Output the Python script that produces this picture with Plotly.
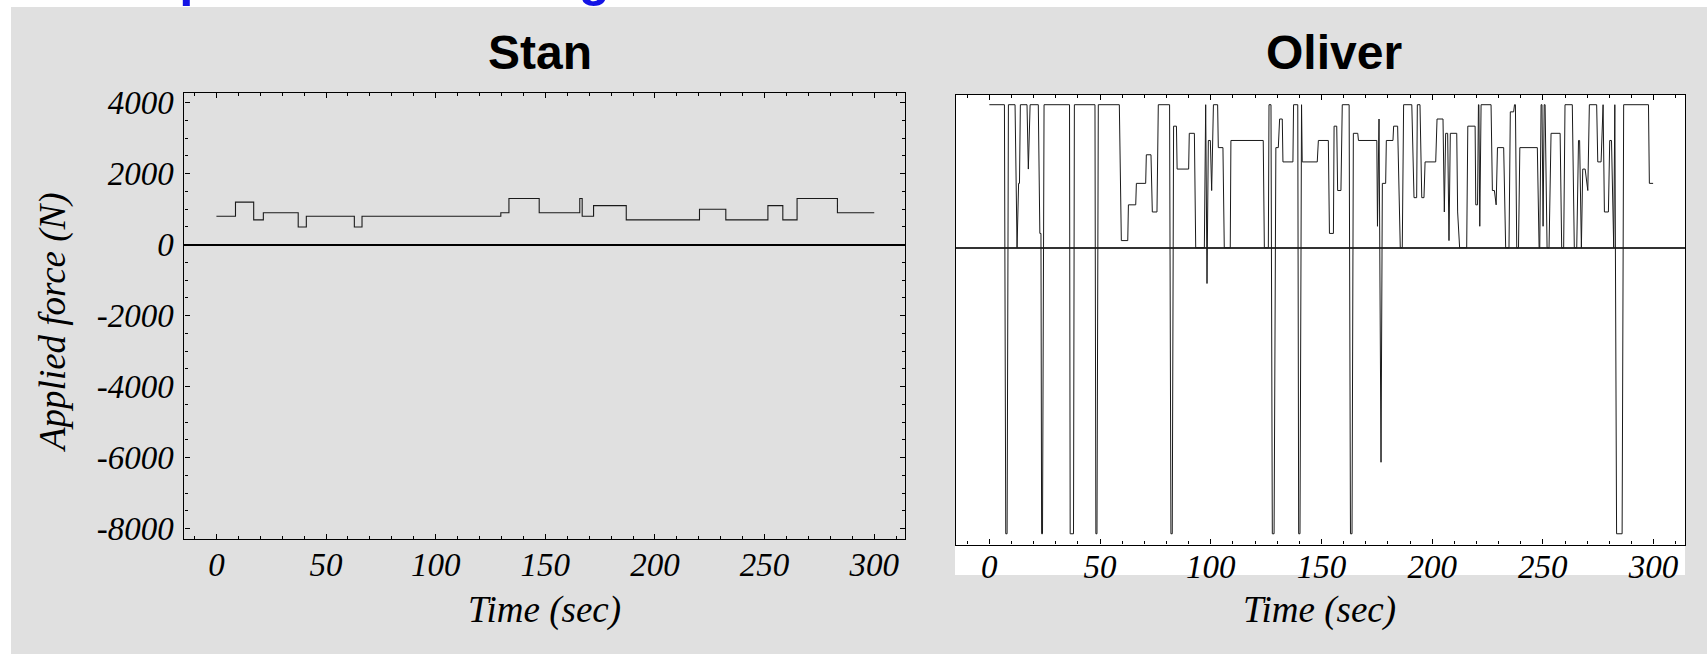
import plotly.graph_objects as go

W, H = 1707, 654

# ---------------- data ----------------
stan_t = [0, 8.7, 17, 21.4, 37.3, 41, 62.9, 66.4, 129.7, 133.4, 147.2, 165.7, 166.8,
          172, 186.9, 220.3, 232.3, 251.5, 258.3, 264.8, 283.2, 300]
stan_v = [800, 1200, 700, 900, 500, 800, 500, 800, 900, 1300, 900, 1300, 800,
          1100, 700, 1000, 700, 1100, 700, 1300, 900, 900]

oliver_t = [0, 6.8, 7.4, 8.0, 8.6, 11.6, 12.5, 13.2, 13.6, 14.0, 17.0, 17.6, 18.4, 22.1,
            22.8, 23.3, 23.6, 24.0, 24.7, 36.2, 36.5, 38.0, 38.4, 47.7, 48.1, 48.6, 49.2,
            58.7, 59.6, 62.5, 62.8, 66.1, 66.4, 70.6, 70.9, 73.0, 73.6, 75.7, 76.3, 81.4,
            82.0, 82.6, 83.2, 84.5, 84.8, 90.0, 90.3, 92.6, 93.2, 97.1, 97.7, 98.3, 98.9,
            99.8, 100.4, 101.2, 103.1, 103.4, 105.5, 106.1, 108.8, 109.1, 123.7, 124.2,
            126.0, 126.3, 127.2, 127.8, 128.6, 129.4, 130.5, 131.1, 132.3, 132.6, 137.1,
            137.4, 139.3, 139.7, 140.3, 140.7, 141.0, 141.3, 148.1, 148.6, 153.1, 153.6,
            155.4, 155.7, 156.9, 157.3, 158.8, 159.4, 162.5, 163.1, 163.8, 164.4, 166.4,
            166.7, 175.0, 175.3, 176.0, 176.9, 177.5, 179.0, 179.3, 182.3, 182.6, 184.4,
            185.6, 186.5, 187.1, 190.8, 191.8, 193.0, 193.3, 194.5, 195.3, 196.3, 196.8,
            201.6, 202.2, 204.9, 205.5, 206.1, 207.0, 207.6, 208.2, 211.1, 211.5, 212.4,
            215.6, 216.1, 219.4, 219.7, 220.5, 220.9, 221.1, 221.5, 222.1, 226.6, 227.2,
            228.1, 228.9, 229.5, 232.3, 233.2, 234.7, 235.3, 236.8, 237.2, 237.6, 238.2,
            239.0, 239.6, 247.5, 248.3, 248.6, 249.2, 249.6, 250.1, 250.6, 251.0, 251.9,
            252.8, 253.7, 257.8, 258.5, 259.4, 260.0, 263.3, 264.2, 265.3, 266.1, 266.6,
            267.4, 268.0, 269.1, 270.3, 271.0, 274.3, 274.8, 276.3, 276.9, 277.2, 277.8,
            279.6, 280.2, 281.0, 282.0, 282.5, 283.3, 285.8, 286.5, 297.7, 298.1, 299.8]
oliver_v = [4000, 4000, -8000, -8000, 4000, 4000, 0, 1800, 1800, 4000, 4000, 2200, 4000, 4000,
            400, 400, -8000, -8000, 4000, 4000, -8000, -8000, 4000, 4000, -8000, -8000, 4000,
            4000, 200, 200, 1200, 1200, 1800, 1800, 2600, 2600, 1000, 1000, 4000, 4000,
            -8000, -8000, 3400, 3400, 2200, 2200, 3200, 3200, 0, 0, 4000, -1000, 3000,
            3000, 1600, 4000, 4000, 2800, 2800, 0, 0, 3000, 3000, 0,
            0, 4000, 4000, -8000, -8000, 2800, 2800, 3600, 3600, 2400, 2400,
            4000, 4000, -8000, -8000, 4000, 4000, 2400, 2400, 3000, 3000, 400,
            400, 3400, 3400, 1600, 1600, 4000, 4000, -8000, -8000, 3200, 3200,
            3000, 3000, 600, 3600, -6000, 1800, 1800, 3000, 3000, 3400, 3400,
            0, 0, 4000, 4000, 1400, 1400, 4000, 4000, 1400, 1400, 2400,
            2400, 3600, 3600, 1000, 3200, 3200, 200, 3200, 3200, 1000, 0,
            0, 3400, 3400, 1200, 1200, 4000, 4000, 600, 4000, 4000, 1600,
            1600, 1200, 2800, 2800, 0, 0, 3800, 3800, 4000, 4000, 0,
            0, 2800, 2800, 0, 0, 4000, 4000, 600, 4000, 4000, 0,
            0, 3200, 3200, 0, 0, 4000, 4000, 0, 0, 3000, 3000,
            0, 2200, 2200, 1600, 4000, 4000, 2400, 2400, 4000, 4000, 1000,
            1000, 3000, 3000, 0, 4000, -8000, -8000, 4000, 4000, 1800, 1800]

x_ticks = [0, 50, 100, 150, 200, 250, 300]
y_ticks = [-8000, -6000, -4000, -2000, 0, 2000, 4000]
y_ticktext = ["-8000", "-6000", "-4000", "-2000", "0", "2000", "4000"]

# ---------------- layout helpers (pixel -> paper) ----------------
def px(x):
    return x / W

def py(y):
    return 1 - y / H

BG = "#e0e0e0"
SERIF = "Liberation Serif"
tickfont = dict(family=SERIF, size=33, color="black", style="italic")

fig = go.Figure()
fig.add_trace(go.Scatter(x=stan_t, y=stan_v, mode="lines", line_shape="hv",
                         line=dict(color="#1a1a1a", width=1.1),
                         xaxis="x", yaxis="y", showlegend=False, hoverinfo="skip"))
fig.add_trace(go.Scatter(x=oliver_t, y=oliver_v, mode="lines",
                         line=dict(color="#1a1a1a", width=1.0),
                         xaxis="x2", yaxis="y2", showlegend=False, hoverinfo="skip"))

common_x = dict(tickvals=x_ticks, ticks="inside", ticklen=5, tickwidth=1, tickcolor="black",
                showline=True, linecolor="black", linewidth=1.2, mirror="allticks",
                showgrid=False, zeroline=False, tickfont=tickfont, automargin=False,
                minor=dict(dtick=10, tick0=0, ticks="inside", ticklen=3, tickcolor="black",
                           showgrid=False))

fig.update_layout(
    width=W, height=H,
    margin=dict(l=0, r=0, t=0, b=0, pad=0, autoexpand=False),
    paper_bgcolor="white", plot_bgcolor="rgba(0,0,0,0)",
    xaxis=dict(domain=[px(184.4), px(905.4)], range=[-14.6, 314.2], anchor="y",
               ticklabelstandoff=-4, **common_x),
    yaxis=dict(domain=[py(539), py(93.3)], range=[-8290, 4265], anchor="x",
               tickvals=y_ticks, ticktext=y_ticktext, ticks="inside", ticklen=5, tickwidth=1,
               tickcolor="black", showline=True, linecolor="black", linewidth=1.2,
               mirror="allticks", showgrid=False, zeroline=True, zerolinecolor="black",
               zerolinewidth=1.5, tickfont=tickfont, ticklabelstandoff=3, automargin=False,
               minor=dict(dtick=500, tick0=0, ticks="inside", ticklen=3, tickcolor="black",
                          showgrid=False)),
    xaxis2=dict(domain=[px(955.5), px(1685)], range=[-15.3, 314.2], anchor="y2",
                ticklabelstandoff=-7, **common_x),
    yaxis2=dict(domain=[py(544.5), py(94.7)], range=[-8300, 4280], anchor="x2",
                showticklabels=False, ticks="", showline=True, linecolor="black",
                linewidth=1.2, mirror=True, showgrid=False, zeroline=True, automargin=False,
                zerolinecolor="#333333", zerolinewidth=2.2),
)

shapes = [
    dict(type="rect", xref="paper", yref="paper", x0=px(11), x1=px(W + 5), y0=py(H + 5), y1=py(7),
         fillcolor=BG, line=dict(width=0), layer="below"),
    dict(type="rect", xref="paper", yref="paper", x0=px(955), x1=px(1685), y0=py(575), y1=py(94),
         fillcolor="white", line=dict(width=0), layer="below"),
]
fig.update_layout(shapes=shapes)

ann = []
ann.append(dict(text="<b>Stan</b>", x=px(540), y=py(52), xref="paper", yref="paper",
                showarrow=False, xanchor="center", yanchor="middle",
                font=dict(family="Liberation Sans", size=48, color="black")))
ann.append(dict(text="<b>Oliver</b>", x=px(1334), y=py(52), xref="paper", yref="paper",
                showarrow=False, xanchor="center", yanchor="middle",
                font=dict(family="Liberation Sans", size=48, color="black")))
ann.append(dict(text="Time (sec)", x=px(544), y=py(610), xref="paper", yref="paper",
                showarrow=False, xanchor="center", yanchor="middle",
                font=dict(family=SERIF, size=37, color="black", style="italic")))
ann.append(dict(text="Time (sec)", x=px(1319), y=py(610), xref="paper", yref="paper",
                showarrow=False, xanchor="center", yanchor="middle",
                font=dict(family=SERIF, size=37, color="black", style="italic")))
ann.append(dict(text="Applied force (N)", x=px(53), y=py(323), xref="paper", yref="paper",
                showarrow=False, xanchor="center", yanchor="middle", textangle=-90,
                font=dict(family=SERIF, size=37, color="black", style="italic")))
# slide heading above the chart: only its lowest strokes fall inside the picture
ann.append(dict(text="<b>Comparison of driving</b>", x=px(64), y=py(8),
                xref="paper", yref="paper", showarrow=False, xanchor="left", yanchor="bottom",
                font=dict(family="Liberation Sans", size=51, color="#1414e6")))
fig.update_layout(annotations=ann)

fig.write_html("out.html")
